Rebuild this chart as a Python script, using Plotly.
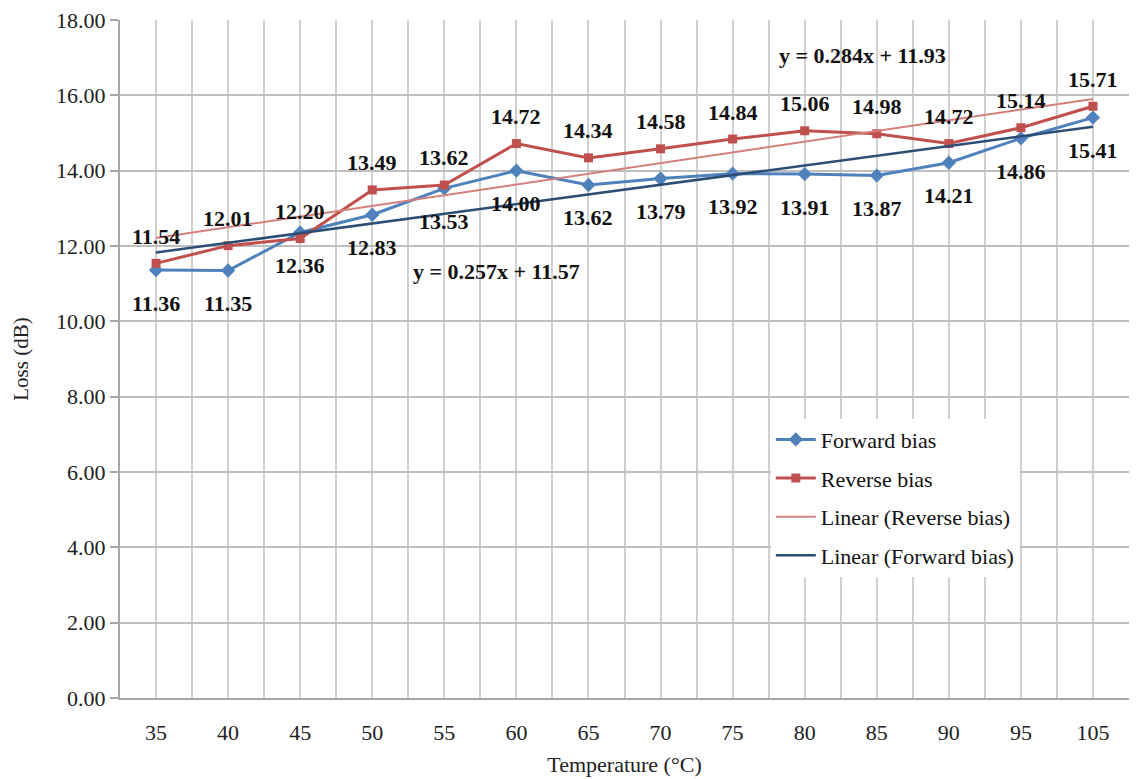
import plotly.graph_objects as go

temps = ["35", "40", "45", "50", "55", "60", "65", "70", "75", "80", "85", "90", "95", "105"]
forward = [11.36, 11.35, 12.36, 12.83, 13.53, 14.00, 13.62, 13.79, 13.92, 13.91, 13.87, 14.21, 14.86, 15.41]
reverse = [11.54, 12.01, 12.20, 13.49, 13.62, 14.72, 14.34, 14.58, 14.84, 15.06, 14.98, 14.72, 15.14, 15.71]
fwd_slope, fwd_intercept = 0.257, 11.57
rev_slope, rev_intercept = 0.284, 11.93
y_ticks = [0, 2, 4, 6, 8, 10, 12, 14, 16, 18]

pos = list(range(len(temps)))
fwd_trend = [fwd_slope * (i + 1) + fwd_intercept for i in pos]
rev_trend = [rev_slope * (i + 1) + rev_intercept for i in pos]

SERIF = "Liberation Serif, Times New Roman, serif"
BLUE = "#4F81BD"
RED = "#C0504D"
LRED = "#D47F7C"
NAVY = "#2C4D75"

fig = go.Figure()
fig.add_trace(go.Scatter(x=pos, y=forward, mode="lines+markers", name="Forward bias",
                         line=dict(color=BLUE, width=3), marker=dict(symbol="diamond", size=11, color=BLUE),
                         legendgroup="a", legendrank=1))
fig.add_trace(go.Scatter(x=pos, y=reverse, mode="lines+markers", name="Reverse bias",
                         line=dict(color=RED, width=3), marker=dict(symbol="square", size=9, color=RED),
                         legendgroup="b", legendrank=2))
fig.add_trace(go.Scatter(x=pos, y=rev_trend, mode="lines", name="Linear (Reverse bias)",
                         line=dict(color=LRED, width=2), legendgroup="c", legendrank=3))
fig.add_trace(go.Scatter(x=pos, y=fwd_trend, mode="lines", name="Linear (Forward bias)",
                         line=dict(color=NAVY, width=2.5), legendgroup="d", legendrank=4))

LABEL_FONT = dict(family=SERIF, size=22, color="#111111", weight="bold")
annotations = []
for i, v in zip(pos, forward):
    annotations.append(dict(x=i, y=v, text=f"{v:.2f}", showarrow=False, yshift=-33, font=LABEL_FONT))
for i, v in zip(pos, reverse):
    annotations.append(dict(x=i, y=v, text=f"{v:.2f}", showarrow=False, yshift=27, font=LABEL_FONT))
annotations.append(dict(x=4.73, y=11.33, text=f"y = {fwd_slope}x + {fwd_intercept}", showarrow=False,
                        font=dict(family=SERIF, size=22, color="#111111", weight="bold")))
annotations.append(dict(x=9.8, y=17.05, text=f"y = {rev_slope}x + {rev_intercept}", showarrow=False,
                        font=dict(family=SERIF, size=22, color="#111111", weight="bold")))

fig.update_layout(
    width=1132, height=771,
    margin=dict(l=112, r=11, t=12, b=81, autoexpand=False),
    paper_bgcolor="white", plot_bgcolor="white",
    font=dict(family=SERIF, size=20, color="#222222"),
    annotations=annotations,
    showlegend=True,
    legend=dict(x=0.645, y=0.412, xanchor="left", yanchor="top", bgcolor="white",
                font=dict(family=SERIF, size=22, color="#111111"), tracegroupgap=7,
                itemwidth=40),
)
fig.update_xaxes(
    automargin=False,
    range=[-0.5, 13.5], tickvals=pos, ticktext=temps, showgrid=True, gridcolor="#D0D0D0", gridwidth=1.5,
    minor=dict(tickvals=[i - 0.5 for i in pos] + [13.5], showgrid=True, gridcolor="#D0D0D0", gridwidth=1.5),
    showline=True, linecolor="#A6A6A6", linewidth=2, zeroline=False, ticks="",
    tickfont=dict(family=SERIF, size=22, color="#222222"), ticklabelstandoff=14,
    title=dict(text="Temperature (°C)", font=dict(family=SERIF, size=22, color="#222222"), standoff=12),
)
fig.update_yaxes(
    automargin=False, ticklabeloverflow="allow",
    range=[0, 18.0005], tickvals=y_ticks, tickformat=".2f", showgrid=True, gridcolor="#BEBEBE", gridwidth=2,
    showline=True, linecolor="#A6A6A6", linewidth=2, zeroline=False, ticks="outside", ticklen=8,
    tickcolor="#A6A6A6", tickwidth=2,
    tickfont=dict(family=SERIF, size=22, color="#222222"), ticklabelstandoff=0,
    title=dict(text="Loss (dB)", font=dict(family=SERIF, size=21, color="#222222"), standoff=22),
)

fig.write_html("out.html")
